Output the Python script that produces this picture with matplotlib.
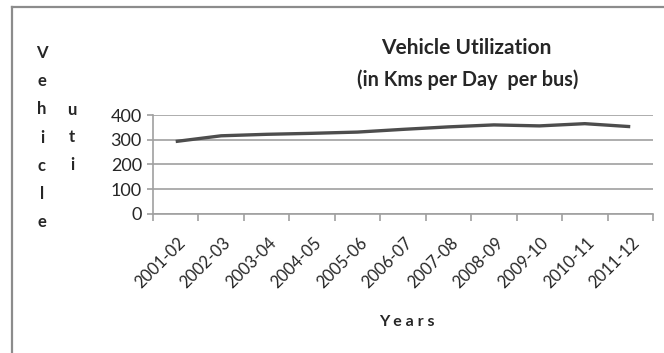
import matplotlib
matplotlib.use("Agg")
import matplotlib.pyplot as plt
import matplotlib.transforms as mtransforms
from matplotlib.lines import Line2D
import numpy as np

plt.rcParams['font.family'] = ['Lato', 'DejaVu Sans']

# 车辆利用率（公里/天/车）
years = ['2001-02', '2002-03', '2003-04', '2004-05', '2005-06', '2006-07',
         '2007-08', '2008-09', '2009-10', '2010-11', '2011-12']
km_per_day = [293, 316, 322, 326, 331, 342, 352, 360, 356, 365, 353]
y_ticks = [0, 100, 200, 300, 400]

grey = '#a0a0a0'
text_c = '#262626'

fig = plt.figure(figsize=(6.64, 3.53), dpi=100)
ax = fig.add_axes([0.2304, 0.3938, 0.753, 0.2804])

x = np.arange(len(years)) + 0.5
ax.plot(x, km_per_day, color='#4d4d4d', lw=2.4, solid_capstyle='butt', zorder=3)

ax.set_xlim(0, len(years))
ax.set_ylim(0, 400)
ax.set_yticks(y_ticks)
ax.grid(axis='y', color=grey, lw=1.2)
ax.set_axisbelow(True)

for s in ['top', 'right']:
    ax.spines[s].set_visible(False)
for s in ['left', 'bottom']:
    ax.spines[s].set_color(grey)
    ax.spines[s].set_linewidth(1.2)

# 刻度线在类别边界，标签在类别中心
ax.set_xticks(np.arange(len(years) + 1))
ax.set_xticklabels([])
ax.set_xticks(x, minor=True)
ax.set_xticklabels(years, minor=True, rotation=45, ha='right', va='center',
                   rotation_mode='anchor', fontsize=12, color=text_c)
ax.tick_params(axis='x', which='major', length=5, color=grey, width=1.2)
ax.tick_params(axis='x', which='minor', length=0, pad=19)
ax.tick_params(axis='y', length=4, color=grey, width=1.2, labelsize=13,
               labelcolor=text_c, pad=4)
shift = mtransforms.ScaledTranslation(5 / 72, 0, fig.dpi_scale_trans)
for lab in ax.get_xticklabels(minor=True):
    lab.set_transform(lab.get_transform() + shift)

fig.text(0.703, 0.864, 'Vehicle Utilization', ha='center', va='center',
         fontsize=15, fontweight='bold', color=text_c)
fig.text(0.705, 0.773, '(in Kms per Day  per bus)', ha='center', va='center',
         fontsize=14.3, fontweight='bold', color=text_c)
fig.text(0.613, 0.088, 'Y e a r s', ha='center', va='center',
         fontsize=11.5, fontweight='bold', color=text_c)

# 纵轴标题竖排
col1 = 'Vehicle'
col2 = 'uti'
for i, ch in enumerate(col1):
    fig.text(42 / 664, 1 - (53 + i * 28.2) / 353, ch, ha='center', va='center',
             fontsize=12, fontweight='bold', color=text_c)
for i, ch in enumerate(col2):
    fig.text(72 / 664, 1 - (110 + i * 27.5) / 353, ch, ha='center', va='center',
             fontsize=12, fontweight='bold', color=text_c)

# 外框
fig.add_artist(Line2D([12 / 664, 12 / 664], [0, 1 - 7 / 353], color='#8c8c8c', lw=1.6))
fig.add_artist(Line2D([12 / 664, 1], [1 - 7 / 353, 1 - 7 / 353], color='#8c8c8c', lw=1.6))

fig.savefig('out.png', dpi=100)
